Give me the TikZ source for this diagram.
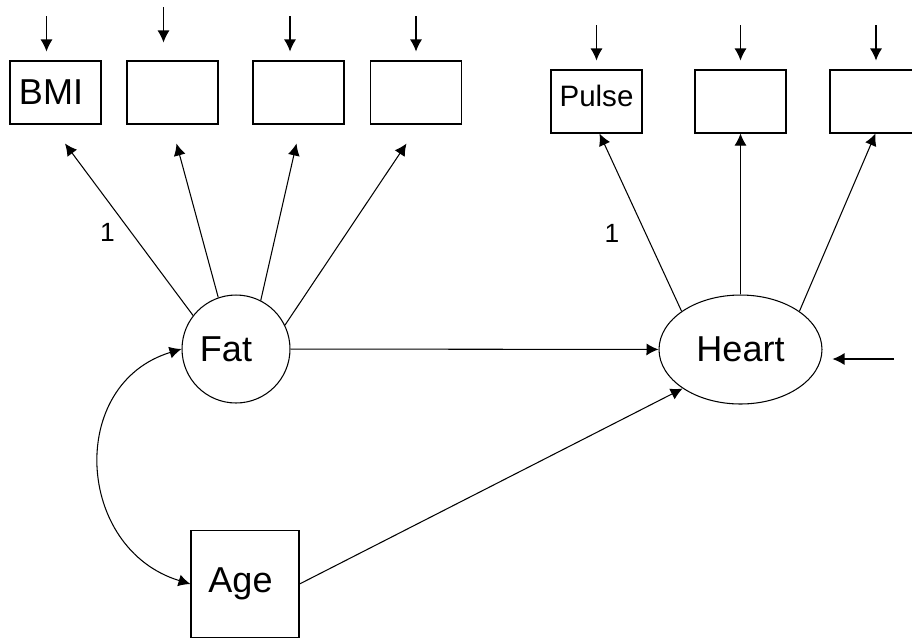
\documentclass[tikz,border=0pt]{standalone}
\usepackage{fontspec}
\setmainfont{Liberation Sans}
\usepackage{tikz}
\usetikzlibrary{calc}
\usetikzlibrary{arrows.meta}
\usetikzlibrary{shapes.geometric}
\tikzset{>={Latex[length=0.24cm,width=0.24cm]}}
\tikzstyle{obs} = [rectangle, draw, line width=0.6pt, minimum width=1.82cm, minimum height=1.26cm, inner sep=0, font=\fontsize{20.5}{24}\selectfont]
\tikzstyle{lat} = [draw, line width=0.6pt, inner sep=0, font=\fontsize{20.5}{24}\selectfont]
\tikzstyle{reg} = [->, line width=0.6pt]
\tikzstyle{err} = [->, line width=0.6pt, shorten >=0.18cm]
\tikzstyle{fix} = [font=\fontsize{15}{18}\selectfont, inner sep=0]

\begin{document}
\begin{tikzpicture}[x=0.02cm, y=-0.02cm]
\useasboundingbox (0,0) rectangle (912,637);
\clip (0,0) rectangle (912,637);
% indicators of Fat
\node [obs] (bmi) at (55.5, 92.5) {BMI\kern0.18cm};
\node [obs] (fat2) at (172.5, 92.5) {};
\node [obs] (fat3) at (298.5, 92.5) {};
\node [obs] (fat4) at (416, 92.5) {};
% indicators of Heart
\node [obs, font=\fontsize{16.8}{20}\selectfont, text depth=0.22cm] (pulse) at (596.5, 101.5) {Pulse};
\node [obs] (heart2) at (740.5, 101.5) {};
\node [obs] (heart3) at (875.5, 101.5) {};
% latent variables and covariate
\node [lat, circle, minimum size=2.16cm] (fat) at (236, 349) {Fat\kern0.4cm};
\node [lat, ellipse, minimum width=3.26cm, minimum height=2.18cm] (heart) at (740.5, 349.5) {Heart};
\node [obs, anchor=base, text height=1.24cm, text depth=0.92cm, minimum width=2.16cm] (age) at (245, 592) {Age\kern0.18cm};
% error terms
\coordinate (e1) at (46.5, 16);
\coordinate (e2) at (163.5, 7);
\coordinate (e3) at (290, 16);
\coordinate (e4) at (416, 16);
\coordinate (e5) at (596.5, 25);
\coordinate (e6) at (740.5, 25);
\coordinate (e7) at (876, 25);
\coordinate (eh) at (894, 359);
\draw [err] (e1) -- (e1 |- bmi.north);
\draw [err, shorten >=0.36cm] (e2) -- (e2 |- fat2.north);
\draw [err] (e3) -- (e3 |- fat3.north);
\draw [err] (e4) -- (e4 |- fat4.north);
\draw [err] (e5) -- (e5 |- pulse.north);
\draw [err] (e6) -- (e6 |- heart2.north);
\draw [err] (e7) -- (e7 |- heart3.north);
\draw [err, shorten >=0.2cm] (eh) -- (eh -| heart.east);
% loadings
\draw [reg] (fat.142) -- ($(bmi.south)+(9.5,19)$);
\draw [reg] (fat.109) -- ($(fat2.south)+(4,19)$);
\draw [reg] (fat.63) -- ($(fat3.south)+(-2,19)$);
\draw [reg] (fat.26) -- ($(fat4.south)+(-9.5,19)$);
\draw [reg] (heart.147) -- ($(pulse.south)+(3,0)$);
\draw [reg] (heart.north) -- (heart2.south);
\draw [reg] (heart.33) -- (heart3.south);
\node [fix] (one1) at (107.5, 232.5) {1};
\node [fix] (one2) at (612, 233.5) {1};
% structural part
\draw [reg] (fat) -- (heart);
\draw [reg] (age.east) -- (heart.214);
\draw [<->, line width=0.6pt] (fat.west) .. controls +(-115,35) and +(-115,-35) .. (age.west);
\end{tikzpicture}
\end{document}
